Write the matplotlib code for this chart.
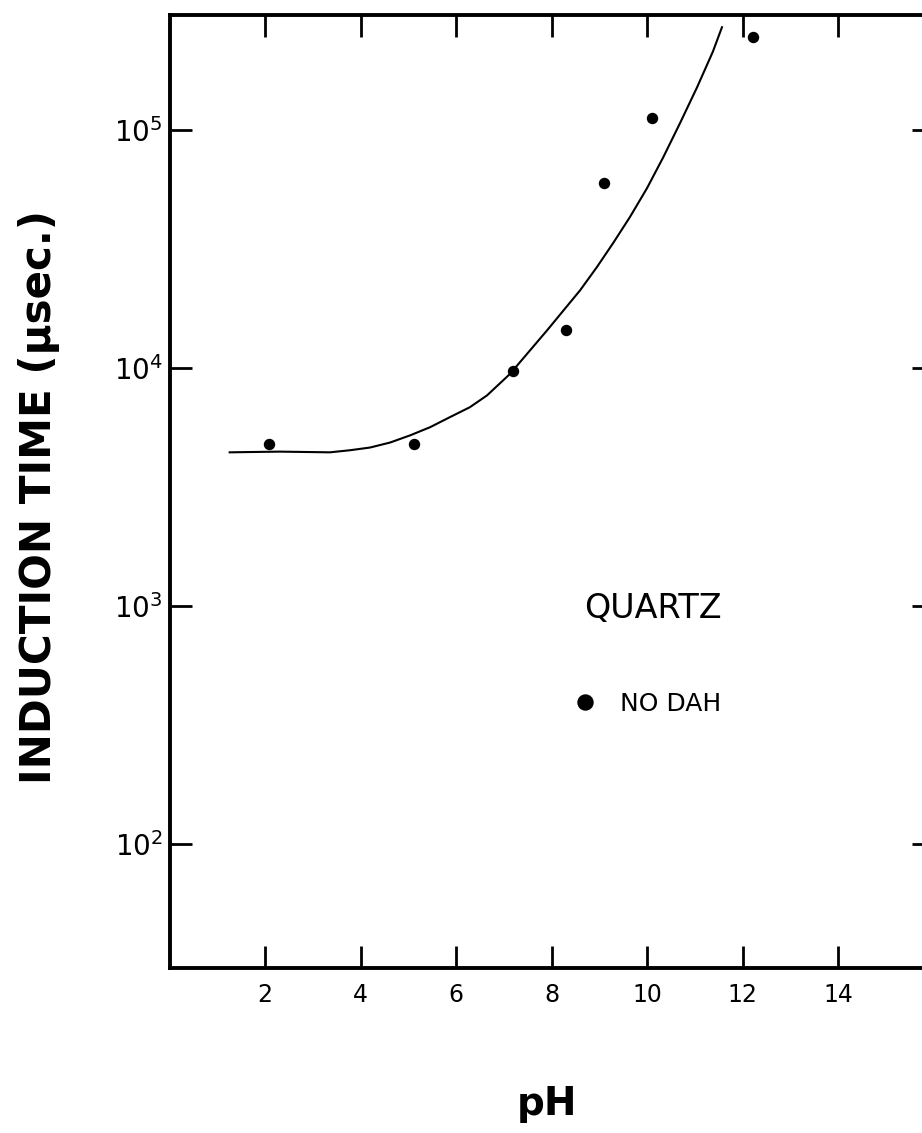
import matplotlib
matplotlib.use("Agg")
import matplotlib.pyplot as plt
from matplotlib import font_manager

# measured points, quartz without DAH
ph_points = [2.08, 5.12, 7.19, 8.30, 9.10, 10.10, 12.22]
time_points = [4800, 4800, 9700, 14400, 60000, 112000, 246000]

# hand-drawn curve
ph_curve = [1.26, 2.3, 3.36, 3.78, 4.20, 4.62, 5.04, 5.46, 5.87, 6.29, 6.65, 7.13,
            7.91, 8.60, 8.95, 9.29, 9.64, 10.00, 10.34, 10.69, 11.05, 11.38, 11.57]
time_curve = [4420, 4450, 4420, 4510, 4630, 4860, 5210, 5640, 6210, 6840, 7670, 9440,
              14420, 21230, 26550, 33500, 43050, 57020, 76910, 106900, 151700, 214000, 271000]

x_ticks = [2, 4, 6, 8, 10, 12, 14]
y_ticks = [1e2, 1e3, 1e4, 1e5]

W, H = 922, 1133
plt.rcParams["mathtext.default"] = "regular"

fig = plt.figure(figsize=(W / 100, H / 100), dpi=100)
# axes box in pixels: left 169.5, right ~933 (cut off), top 15, bottom 968
ax = fig.add_axes([169.5 / W, 1 - 968 / H, 764 / W, 953 / H])

ax.plot(ph_curve, time_curve, color="black", lw=1.5)
ax.plot(ph_points, time_points, "o", color="black", ms=7.2, label="NO DAH")

ax.set_yscale("log")
ax.set_xlim(0, 16)
ax.set_ylim(30, 3.05e5)
ax.set_xticks(x_ticks)
ax.set_yticks(y_ticks)
ax.minorticks_off()

ax.tick_params(direction="in", top=True, right=True, length=16, width=2, pad=11)
ax.tick_params(axis="x", labelsize=17)
ax.tick_params(axis="y", labelsize=20, pad=5)
for s in ax.spines.values():
    s.set_linewidth(2.8)

# y label: hand lettering is very condensed, pick a narrow face if there is one
names = {f.name for f in font_manager.fontManager.ttflist}
label_family = "Liberation Sans Narrow" if "Liberation Sans Narrow" in names else "DejaVu Sans"
ylab = ax.set_ylabel("INDUCTION TIME (μsec.)", fontsize=42, fontweight="bold", family=label_family)
ax.yaxis.set_label_coords(-0.143, 0.494)
fig.canvas.draw()
ext = ylab.get_window_extent()
ylab.set_fontsize(42 * 575 / ext.height)

xlab = ax.set_xlabel("pH", fontsize=28, fontweight="bold")
ax.xaxis.set_label_coords(0.494, -0.123)

ax.text((653 - 169.5) / 764, (968 - 609) / 953, "QUARTZ", transform=ax.transAxes,
        fontsize=24, ha="center", va="center")
ax.legend(loc="center left", bbox_to_anchor=((572.5 - 169.5) / 764, (968 - 704) / 953),
          frameon=False, fontsize=18, markerscale=1.5, handlelength=1.0,
          handletextpad=0.9, borderpad=0, borderaxespad=0)

fig.savefig("out.png", dpi=100)
